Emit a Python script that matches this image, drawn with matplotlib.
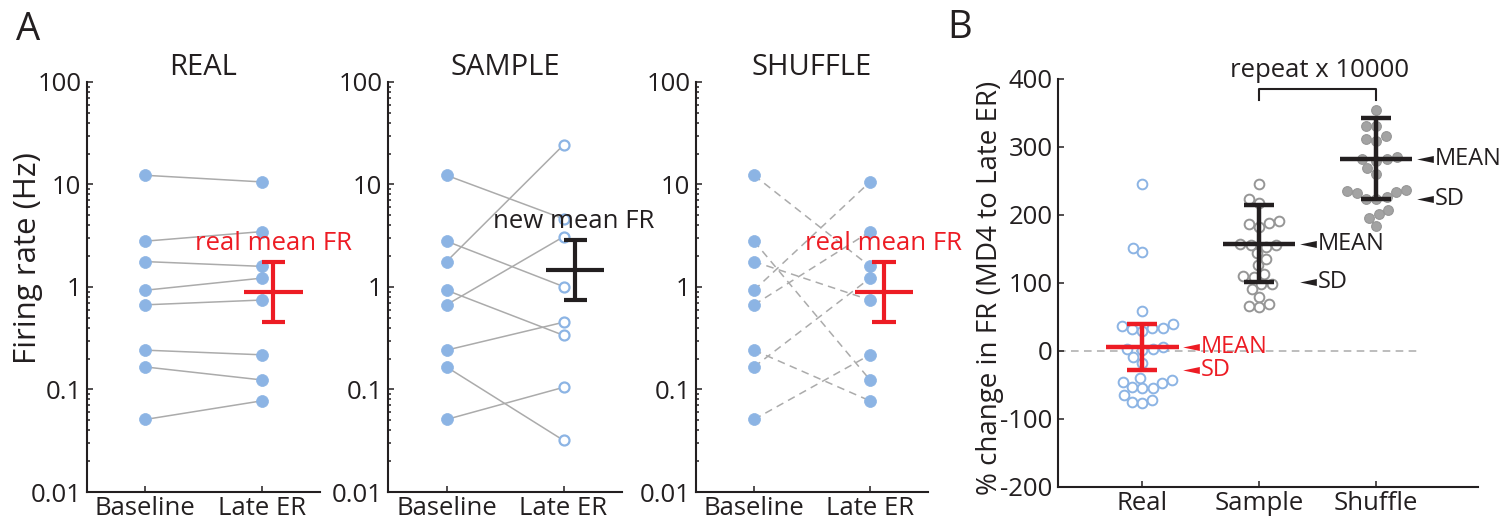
import numpy as np
import matplotlib
matplotlib.use("Agg")
import matplotlib.pyplot as plt
from matplotlib.path import Path
from matplotlib.ticker import FixedLocator, FixedFormatter, LogLocator, NullFormatter

plt.rcParams['font.family'] = ['Open Sans', 'DejaVu Sans']
plt.rcParams['axes.unicode_minus'] = False

# ---------------- data ----------------
conditions = ["Baseline", "Late ER"]
panel_titles = ["REAL", "SAMPLE", "SHUFFLE"]

# firing rates (Hz) of the recorded cells
baseline_fr = [12.3, 2.8, 1.77, 0.93, 0.67, 0.242, 0.166, 0.051]
late_fr = [10.6, 3.47, 1.59, 1.22, 0.746, 0.218, 0.124, 0.0775]
# resampled late-ER rates, paired with the baseline cells in the same order
sample_late_fr = [4.63, 1.01, 24.3, 0.338, 3.09, 0.453, 0.0319, 0.105]
# shuffled pairing: which late_fr entry each baseline cell is joined to
shuffle_pairing = [2, 6, 4, 0, 1, 7, 3, 5]

# mean FR with lower / upper spread
real_mean_fr = [0.89, 0.455, 1.75]
sample_mean_fr = [1.45, 0.74, 2.85]

# % change in FR (MD4 to Late ER)
groups = ["Real", "Sample", "Shuffle"]
real_change = [246, 151, 145, 59, 30, 34, 37, 40, 34, 33, 1, 2.5, 6, 3.4, -9,
               -17, -55, -53, -45, -40, -43, -47, -55, -77, -72, -64, -75]
sample_change = [245, 223, 218, 183, 191, 188, 187, 153, 156, 158, 156, 144,
                 136, 126, 109, 113, 110, 98, 91, 98, 80, 64, 69, 66]
shuffle_change = [354, 331, 331, 316, 309, 312, 279, 282, 286, 282, 261, 269,
                  224, 227, 234, 237, 236, 232, 224, 201, 207, 195, 184]
change_mean = [6, 158, 283]
change_sd = [34, 56, 59.5]
repeat_label = "repeat x 10000"

# ---------------- style ----------------
BLUE = "#8cb4e4"
RED = "#ed1c24"
INK = "#231f20"
LINE_GREY = "#ababab"
DOT_GREY = "#a3a3a3"
EDGE_GREY = "#969696"
FS = 18.5

fig = plt.figure(figsize=(15.07, 5.23), dpi=100)
W, H = 1507, 523


def px_axes(x0, x1, y0, y1):
    return fig.add_axes([x0 / W, 1 - y1 / H, (x1 - x0) / W, (y1 - y0) / H])


def style_axes(ax):
    for s in ("top", "right"):
        ax.spines[s].set_visible(False)
    for s in ("left", "bottom"):
        ax.spines[s].set_linewidth(1.5)
        ax.spines[s].set_color(INK)
    ax.tick_params(which="both", direction="in", colors=INK, labelcolor=INK,
                   labelsize=FS, width=1.1)
    ax.tick_params(which="major", length=4.5)
    ax.tick_params(which="minor", length=2.5)
    ax.tick_params(axis="y", pad=4)
    ax.tick_params(axis="x", pad=3)


def draw_bar(ax, x, mean, lo, hi, color, half_mean, half_cap, lw):
    ax.plot([x, x], [lo, hi], color=color, lw=lw, solid_capstyle="butt", zorder=5)
    ax.plot([x - half_cap, x + half_cap], [lo, lo], color=color, lw=lw,
            solid_capstyle="butt", zorder=5)
    ax.plot([x - half_cap, x + half_cap], [hi, hi], color=color, lw=lw,
            solid_capstyle="butt", zorder=5)
    ax.plot([x - half_mean, x + half_mean], [mean, mean], color=color, lw=lw,
            solid_capstyle="butt", zorder=5)


# ---------------- panel A ----------------
axes_px = [(87, 320), (388, 622), (696, 928)]
late_sets = [late_fr, sample_late_fr, [late_fr[i] for i in shuffle_pairing]]
late_markers = [late_fr, sample_late_fr, late_fr]

for k, ax_rng in enumerate(axes_px):
    ax = px_axes(ax_rng[0], ax_rng[1], 82, 492)
    style_axes(ax)
    ax.set_yscale("log")
    ax.set_ylim(0.01, 100)
    ax.set_xlim(0.5, 2.5)
    ax.yaxis.set_major_locator(FixedLocator([0.01, 0.1, 1, 10, 100]))
    ax.yaxis.set_major_formatter(FixedFormatter(["0.01", "0.1", "1", "10", "100"]))
    ax.yaxis.set_minor_locator(LogLocator(base=10, subs=np.arange(2, 10)))
    ax.yaxis.set_minor_formatter(NullFormatter())
    ax.set_xticks([1, 2])
    ax.set_xticklabels(conditions)
    ax.set_title(panel_titles[k], fontsize=FS + 2.5, color=INK, pad=2)

    dashed = k == 2
    for b, l in zip(baseline_fr, late_sets[k]):
        ax.plot([1, 2], [b, l], color=LINE_GREY, lw=1.1,
                ls=(0, (5, 3.5)) if dashed else "-", zorder=2)
    ax.plot(np.ones(len(baseline_fr)), baseline_fr, "o", ms=8.6, mfc=BLUE,
            mec=BLUE, mew=0.5, zorder=3, ls="none")
    if k == 1:
        ax.plot(np.full(len(late_markers[k]), 2), late_markers[k], "o", ms=7.2,
                mfc="white", mec=BLUE, mew=1.6, zorder=3, ls="none")
    else:
        ax.plot(np.full(len(late_markers[k]), 2), late_markers[k], "o", ms=8.6,
                mfc=BLUE, mec=BLUE, mew=0.5, zorder=3, ls="none")

    if k == 1:
        m, lo, hi = sample_mean_fr
        draw_bar(ax, 2.1, m, lo, hi, INK, 0.25, 0.1, 3.0)
        ax.text(2.09, 4.4, "new mean FR", color=INK, fontsize=FS,
                ha="center", va="center", zorder=6)
    else:
        m, lo, hi = real_mean_fr
        xb = 2.1 if k == 0 else 2.12
        draw_bar(ax, xb, m, lo, hi, RED, 0.25, 0.1, 3.0)
        ax.text(xb, 2.63, "real mean FR", color=RED, fontsize=FS,
                ha="center", va="center", zorder=6, clip_on=False)

fig.text(28 / W, 1 - 258 / H, "Firing rate (Hz)", rotation=90, fontsize=FS + 4,
         color=INK, ha="center", va="center")

# ---------------- panel B ----------------
axB = px_axes(1058, 1478, 79, 487)
style_axes(axB)
axB.set_ylim(-200, 400)
axB.set_xlim(0.28, 3.87)
axB.set_yticks(np.arange(-200, 401, 100))
axB.set_xticks([1, 2, 3])
axB.set_xticklabels(groups)
fig.text(990 / W, 1 - 288 / H, "% change in FR (MD4 to Late ER)", rotation=90,
         fontsize=FS + 1.5, color=INK, ha="center", va="center")

axB.plot([0.28, 3.38], [0, 0], color=LINE_GREY, lw=1.1, ls=(0, (5, 3.5)), zorder=1)

dot_px = 10.5  # marker footprint in pixels used for the swarm layout
px_per_x = axB.transData.transform((1, 0))[0] - axB.transData.transform((0, 0))[0]
px_per_y = axB.transData.transform((0, 1))[1] - axB.transData.transform((0, 0))[1]


def swarm_offsets(values):
    ypx = np.asarray(values, float) * px_per_y
    order = np.argsort(ypx)
    placed = []
    off = np.zeros(len(ypx))
    for i in order:
        y = ypx[i]
        near = [(px, py) for px, py in placed if abs(py - y) < dot_px]
        cands = [0.0]
        for px, py in near:
            dx = np.sqrt(dot_px ** 2 - (py - y) ** 2)
            cands += [px + dx, px - dx]
        cands.sort(key=lambda c: (abs(c), c))
        for c in cands:
            if all((c - px) ** 2 + (y - py) ** 2 >= dot_px ** 2 - 1e-6 for px, py in near):
                off[i] = c
                break
        placed.append((off[i], y))
    return off / px_per_x


series = [real_change, sample_change, shuffle_change]
face = ["white", "white", DOT_GREY]
edge = [BLUE, EDGE_GREY, EDGE_GREY]
bar_col = [RED, INK, INK]
arrow = Path([(-1, 0), (1, 0.42), (1, -0.42), (-1, 0)],
             [Path.MOVETO, Path.LINETO, Path.LINETO, Path.CLOSEPOLY])

for g, vals in enumerate(series):
    xc = g + 1
    xs = xc + swarm_offsets(vals)
    axB.plot(xs, vals, "o", ms=7.0, mfc=face[g], mec=edge[g],
             mew=1.4 if g < 2 else 0.8, ls="none", zorder=3)
    m, s = change_mean[g], change_sd[g]
    draw_bar(axB, xc, m, m - s, m + s, bar_col[g], 0.31, 0.13, 3.2)
    for yv, lab in ((m, "MEAN"), (m - s, "SD")):
        axB.plot([xc + 0.42], [yv], marker=arrow, ms=12, color=bar_col[g],
                 mew=0, ls="none", clip_on=False, zorder=6)
        axB.text(xc + 0.50, yv, lab, color=bar_col[g], fontsize=FS - 1.5,
                 ha="left", va="center", clip_on=False, zorder=6)

axB.plot([2, 2, 3, 3], [369, 385, 385, 369], color=INK, lw=1.5, clip_on=False)
axB.text(2.52, 412, repeat_label, color=INK, fontsize=FS, ha="center",
         va="center", clip_on=False)

# panel letters
fig.text(28 / W, 1 - 30 / H, "A", fontsize=FS + 9, color=INK, ha="center", va="center")
fig.text(960 / W, 1 - 28 / H, "B", fontsize=FS + 9, color=INK, ha="center", va="center")

fig.savefig("out.png", dpi=100)
